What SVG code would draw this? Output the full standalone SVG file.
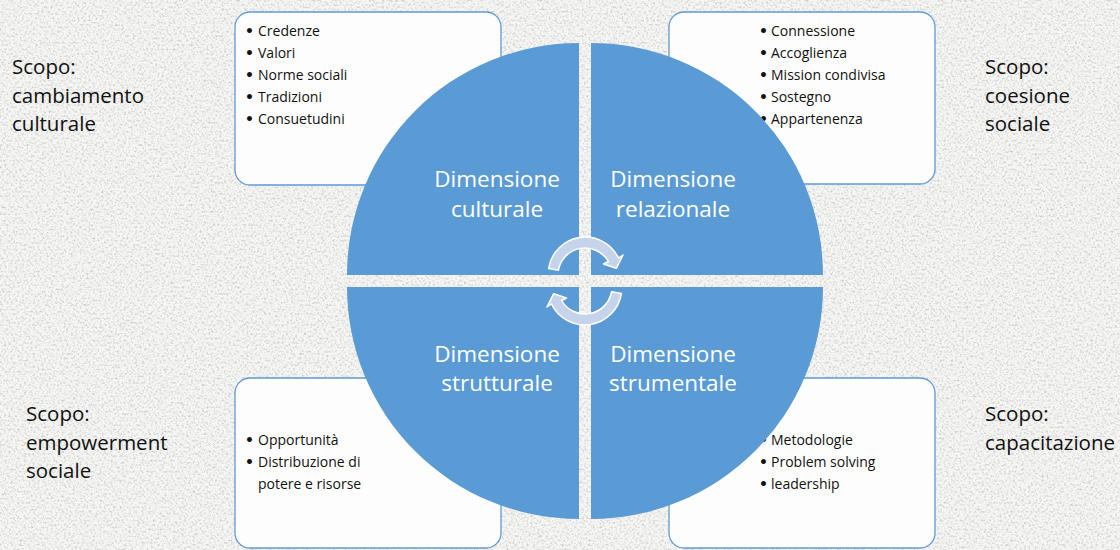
<svg xmlns="http://www.w3.org/2000/svg" width="1120" height="550" viewBox="0 0 1120 550">
  <defs>
    <filter id="grain" x="0" y="0" width="100%" height="100%">
      <feTurbulence type="fractalNoise" baseFrequency="0.45" numOctaves="3" seed="7" result="n"/>
      <feColorMatrix in="n" type="matrix" values="1.3 0 0 0 0.27  1.3 0 0 0 0.27  1.3 0 0 0 0.26  0 0 0 0 0.6"/>
    </filter>
    <style>
      .box { fill: #fdfdfd; stroke: #5b9bd5; stroke-width: 1.3; }
      .quad { fill: #5b9bd5; }
      .item { font-family: "Open Sans", "Liberation Sans", sans-serif; font-size: 14px; fill: #111; }
      .bul { font-family: "DejaVu Sans", sans-serif; font-weight: bold; }
      .dim { font-family: "Open Sans", "Liberation Sans", sans-serif; font-size: 22.5px; fill: #ffffff; text-anchor: middle; }
      .scopo { font-family: "Open Sans", "Liberation Sans", sans-serif; font-size: 20.5px; fill: #111; }
      .cyc { fill: #c5d4eb; stroke: #ffffff; stroke-width: 1.5; stroke-linejoin: round; }
    </style>
  </defs>

  <rect x="0" y="0" width="1120" height="550" fill="#e8e8e6"/>
  <rect x="0" y="0" width="1120" height="550" filter="url(#grain)"/>

  <g id="box-culturale">
    <rect class="box" x="235" y="12" width="266" height="173" rx="15"/>
    <text class="item" y="36"><tspan class="bul" x="245">•</tspan><tspan x="258">Credenze</tspan></text>
    <text class="item" y="58"><tspan class="bul" x="245">•</tspan><tspan x="258">Valori</tspan></text>
    <text class="item" y="80"><tspan class="bul" x="245">•</tspan><tspan x="258">Norme sociali</tspan></text>
    <text class="item" y="102"><tspan class="bul" x="245">•</tspan><tspan x="258">Tradizioni</tspan></text>
    <text class="item" y="124"><tspan class="bul" x="245">•</tspan><tspan x="258">Consuetudini</tspan></text>
  </g>
  <g id="box-relazionale">
    <rect class="box" x="669" y="12" width="266" height="172" rx="15"/>
    <text class="item" y="36"><tspan class="bul" x="759">•</tspan><tspan x="771">Connessione</tspan></text>
    <text class="item" y="58"><tspan class="bul" x="759">•</tspan><tspan x="771">Accoglienza</tspan></text>
    <text class="item" y="80"><tspan class="bul" x="759">•</tspan><tspan x="771">Mission condivisa</tspan></text>
    <text class="item" y="102"><tspan class="bul" x="759">•</tspan><tspan x="771">Sostegno</tspan></text>
    <text class="item" y="124"><tspan class="bul" x="759">•</tspan><tspan x="771">Appartenenza</tspan></text>
  </g>
  <g id="box-strutturale">
    <rect class="box" x="235" y="378" width="266" height="170" rx="15"/>
    <text class="item" y="445"><tspan class="bul" x="245">•</tspan><tspan x="258">Opportunità</tspan></text>
    <text class="item" y="467"><tspan class="bul" x="245">•</tspan><tspan x="258">Distribuzione di</tspan></text>
    <text class="item" x="258" y="489">potere e risorse</text>
  </g>
  <g id="box-strumentale">
    <rect class="box" x="669" y="378" width="266" height="170" rx="15"/>
    <text class="item" y="445"><tspan class="bul" x="759">•</tspan><tspan x="771">Metodologie</tspan></text>
    <text class="item" y="467"><tspan class="bul" x="759">•</tspan><tspan x="771">Problem solving</tspan></text>
    <text class="item" y="489"><tspan class="bul" x="759">•</tspan><tspan x="771">leadership</tspan></text>
  </g>

  <g id="dim-culturale">
    <path class="quad" d="M 579 275 L 347 275 A 232 232 0 0 1 579 43 Z"/>
    <text class="dim" x="497" y="187">Dimensione</text>
    <text class="dim" x="497" y="217">culturale</text>
  </g>
  <g id="dim-relazionale">
    <path class="quad" d="M 591 275 L 591 43 A 232 232 0 0 1 823 275 Z"/>
    <text class="dim" x="673" y="187">Dimensione</text>
    <text class="dim" x="673" y="217">relazionale</text>
  </g>
  <g id="dim-strumentale">
    <path class="quad" d="M 591 287 L 823 287 A 232 232 0 0 1 591 519 Z"/>
    <text class="dim" x="673" y="362">Dimensione</text>
    <text class="dim" x="673" y="391">strumentale</text>
  </g>
  <g id="dim-strutturale">
    <path class="quad" d="M 579 287 L 579 519 A 232 232 0 0 1 347 287 Z"/>
    <text class="dim" x="497" y="362">Dimensione</text>
    <text class="dim" x="497" y="391">strutturale</text>
  </g>

  <g id="scopo-culturale">
    <text class="scopo" x="12" y="74">Scopo:</text>
    <text class="scopo" x="12" y="103">cambiamento</text>
    <text class="scopo" x="12" y="131">culturale</text>
  </g>
  <g id="scopo-relazionale">
    <text class="scopo" x="985" y="74">Scopo:</text>
    <text class="scopo" x="985" y="103">coesione</text>
    <text class="scopo" x="985" y="131">sociale</text>
  </g>
  <g id="scopo-strutturale">
    <text class="scopo" x="26" y="421">Scopo:</text>
    <text class="scopo" x="26" y="450">empowerment</text>
    <text class="scopo" x="26" y="478">sociale</text>
  </g>
  <g id="scopo-strumentale">
    <text class="scopo" x="985" y="421">Scopo:</text>
    <text class="scopo" x="985" y="450">capacitazione</text>
  </g>

  <g id="connectors">
    <path id="cycle-top" class="cyc" d="M 548.6 268.6 A 37 37 0 0 1 618.5 258 L 623 255 L 616.3 268.3 L 603.5 264 L 608.4 261.5 A 27 27 0 0 0 558.4 270.3 Z"/>
    <use href="#cycle-top" transform="rotate(180 585 281)"/>
  </g>
</svg>
